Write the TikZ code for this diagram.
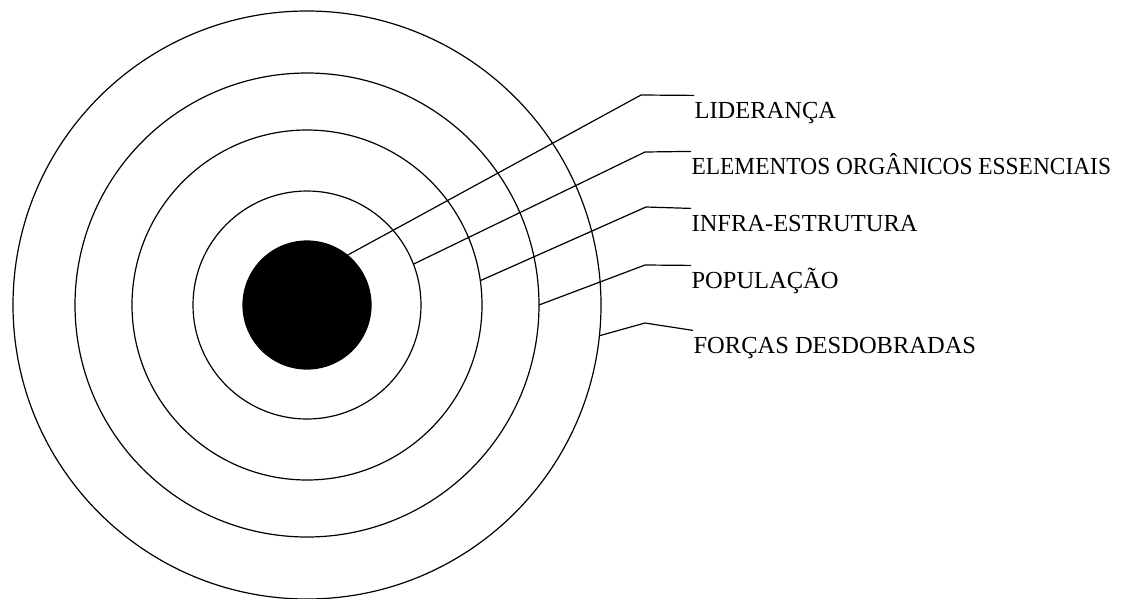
\documentclass[tikz,border=0pt]{standalone}
\usepackage{fontspec}
\setmainfont{Liberation Serif}
\usepackage{tikz}
\usetikzlibrary{positioning}

\begin{document}
\begin{tikzpicture}[x=1pt,y=-1pt,line width=1.2pt,
    ring/.style={circle,draw,inner sep=0pt,outer sep=0pt},
    lbl/.style={anchor=base west,inner xsep=0pt,inner ysep=5pt,text height=17pt,text depth=5pt,
      font=\fontsize{24.5}{29}\selectfont}]
    \useasboundingbox (0,0) rectangle (1126,598);
    % rings, outside in
    \node[ring,minimum size=588pt](ring5) at (307,305){};
    \node[ring,minimum size=464pt](ring4) at (307,305){};
    \node[ring,minimum size=350pt](ring3) at (307,305){};
    \node[ring,minimum size=228pt](ring2) at (307,305){};
    \node[ring,fill=black,minimum size=128pt](disk) at (307,305){};
    % labels
    \node[lbl](lid) at (694,118){LIDERANÇA};
    \node[lbl](elem) at (691,174){\scalebox{0.955}[1]{ELEMENTOS ORGÂNICOS ESSENCIAIS}};
    \node[lbl](infra) at (691,231){INFRA-ESTRUTURA};
    \node[lbl](pop) at (691,288){POPULAÇÃO};
    \node[lbl](forcas) at (693,353){FORÇAS DESDOBRADAS};
    % knees
    \coordinate (k_lid) at (641,95);
    \coordinate (k_elem) at (645,152);
    \coordinate (k_infra) at (646,207);
    \coordinate (k_pop) at (645,265);
    \coordinate (k_forcas) at (645,323);
    \draw (disk.51) -- (k_lid) -- (lid.north west);
    \draw (ring2.21) -- (k_elem) -- (elem.north west);
    \draw (ring3.8) -- (k_infra) -- (infra.north west);
    \draw (ring4.0) -- (k_pop) -- (pop.north west);
    \draw (ring5.-6) -- (k_forcas) -- (forcas.north west);
\end{tikzpicture}
\end{document}
